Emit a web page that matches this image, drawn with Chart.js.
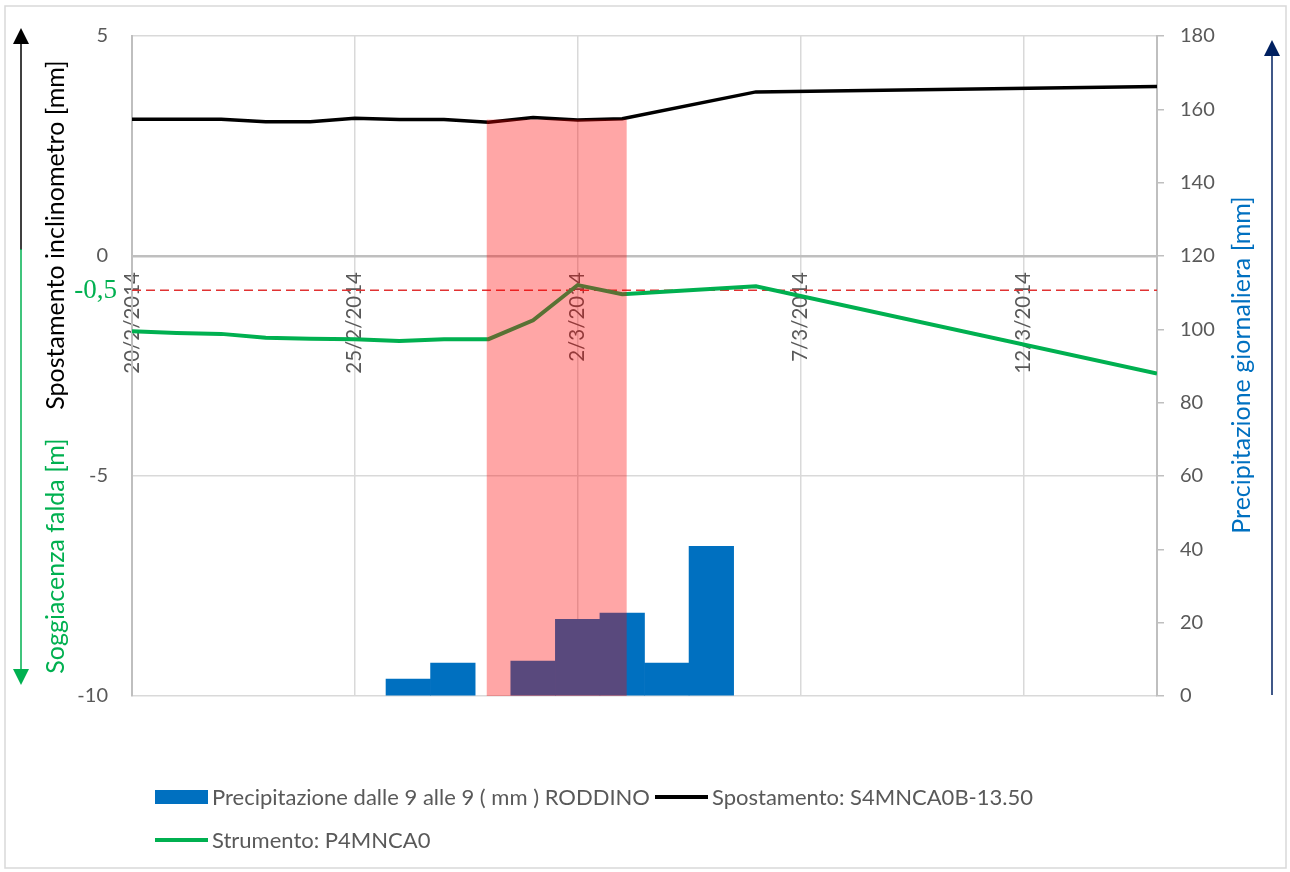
<!DOCTYPE html>
<html>
<head>
<meta charset="utf-8">
<script src="https://cdn.jsdelivr.net/npm/chart.js@4"></script>
<style>
    body { margin: 0; background: #fff; }
    canvas { display: block; }
</style>
</head>
<body>
<canvas id="chart" width="1290" height="872"></canvas>
<script>
// days counted from 20/2/2014
const tickDays = [0, 5, 10, 15, 20];
const tickLabels = ['20/2/2014', '25/2/2014', '2/3/2014', '7/3/2014', '12/3/2014'];

const rainDays = [6.2, 7.2, 9, 10, 11, 12, 13];
const rainValues = [4.6, 9.0, 9.5, 20.9, 22.6, 9.0, 40.8];

const displDays = [0, 1, 2, 3, 4, 5, 6, 7, 8, 9, 10, 11, 14, 23];
const displValues = [3.11, 3.11, 3.11, 3.05, 3.05, 3.13, 3.10, 3.10, 3.04, 3.15, 3.09, 3.12, 3.73, 3.85];

const waterDays = [0, 1, 2, 3, 4, 5, 6, 7, 8, 9, 10, 11, 14, 23];
const waterValues = [-1.71, -1.75, -1.77, -1.86, -1.88, -1.89, -1.93, -1.89, -1.89, -1.46, -0.66, -0.87, -0.69, -2.67];

const thresholdDays = [0, 23];
const thresholdValues = [-0.78, -0.78];
const thresholdLabel = '-0,5';

const highlightDays = [7.96, 11.1];
const highlightTop = 3.10;

const legendItems = ['Precipitazione dalle 9 alle 9 ( mm ) RODDINO', 'Spostamento: S4MNCA0B-13.50', 'Strumento: P4MNCA0'];

const GREY_TEXT = '#595959';
const GREEN = '#00b050';
const BLUE = '#0070c0';
const NAVY = '#002060';
const FONT = 'Lato, "Open Sans", sans-serif';

function toPoints(xs, ys) {
    return xs.map((x, i) => ({ x: x, y: ys[i] }));
}

function arrow(ctx, x, yFrom, yTo, color) {
    const dir = yTo < yFrom ? -1 : 1;
    ctx.save();
    ctx.strokeStyle = color;
    ctx.fillStyle = color;
    ctx.lineWidth = 1.5;
    ctx.beginPath();
    ctx.moveTo(x, yFrom);
    ctx.lineTo(x, yTo - dir * 14);
    ctx.stroke();
    ctx.beginPath();
    ctx.moveTo(x, yTo);
    ctx.lineTo(x - 8, yTo - dir * 16);
    ctx.lineTo(x + 8, yTo - dir * 16);
    ctx.closePath();
    ctx.fill();
    ctx.restore();
}

function rotatedText(ctx, text, x, y, color, font) {
    ctx.save();
    ctx.translate(x, y);
    ctx.rotate(-Math.PI / 2);
    ctx.font = font;
    ctx.fillStyle = color;
    ctx.textAlign = 'center';
    ctx.textBaseline = 'middle';
    ctx.fillText(text, 0, 0);
    ctx.restore();
}

const highlightPlugin = {
    id: 'highlight',
    afterDatasetsDraw(chart) {
        const { ctx, chartArea, scales } = chart;
        const x1 = scales.x.getPixelForValue(highlightDays[0]);
        const x2 = scales.x.getPixelForValue(highlightDays[1]);
        const yTop = scales.y.getPixelForValue(highlightTop);
        ctx.save();
        ctx.fillStyle = 'rgba(255, 0, 0, 0.35)';
        ctx.fillRect(x1, yTop, x2 - x1, chartArea.bottom - yTop);
        ctx.restore();
    }
};

const decorPlugin = {
    id: 'decor',
    afterDraw(chart) {
        const { ctx, scales } = chart;
        ctx.save();

        // outer frame
        ctx.strokeStyle = '#d9d9d9';
        ctx.lineWidth = 1.5;
        ctx.strokeRect(5, 6, 1281, 862);

        // threshold label
        ctx.font = '27px "Liberation Serif", serif';
        ctx.fillStyle = GREEN;
        ctx.textAlign = 'right';
        ctx.textBaseline = 'middle';
        ctx.fillText(thresholdLabel, 117, scales.y.getPixelForValue(thresholdValues[0]) + 1);

        // axis titles
        const titleFont = '25px ' + FONT;
        rotatedText(ctx, 'Spostamento inclinometro [mm]', 56, 235, '#000', titleFont);
        rotatedText(ctx, 'Soggiacenza falda [m]', 56, 556, GREEN, titleFont);
        rotatedText(ctx, 'Precipitazione giornaliera [mm]', 1242, 365, BLUE, titleFont);

        arrow(ctx, 21, 250, 28, '#000');
        arrow(ctx, 21, 249, 685, GREEN);
        arrow(ctx, 1272, 695, 40, NAVY);

        // legend
        ctx.font = '22px ' + FONT;
        ctx.fillStyle = GREY_TEXT;
        ctx.textAlign = 'left';
        ctx.textBaseline = 'middle';

        ctx.save();
        ctx.fillStyle = BLUE;
        ctx.fillRect(155, 790, 53, 14);
        ctx.restore();
        ctx.fillText(legendItems[0], 212, 798);

        ctx.strokeStyle = '#000';
        ctx.lineWidth = 4;
        ctx.beginPath();
        ctx.moveTo(655, 797);
        ctx.lineTo(708, 797);
        ctx.stroke();
        ctx.fillText(legendItems[1], 712, 798);

        ctx.strokeStyle = GREEN;
        ctx.beginPath();
        ctx.moveTo(155, 840);
        ctx.lineTo(208, 840);
        ctx.stroke();
        ctx.fillText(legendItems[2], 212, 841);

        ctx.restore();
    }
};

new Chart(document.getElementById('chart'), {
    type: 'line',
    data: {
        datasets: [
            {
                label: legendItems[2],
                data: toPoints(waterDays, waterValues),
                borderColor: GREEN,
                borderWidth: 4,
                pointRadius: 0,
                yAxisID: 'y',
                order: 1
            },
            {
                label: legendItems[1],
                data: toPoints(displDays, displValues),
                borderColor: '#000',
                borderWidth: 3.5,
                pointRadius: 0,
                yAxisID: 'y',
                order: 2
            },
            {
                label: 'soglia',
                data: toPoints(thresholdDays, thresholdValues),
                borderColor: '#e03232',
                borderWidth: 1.5,
                borderDash: [9, 5],
                pointRadius: 0,
                yAxisID: 'y',
                order: 3
            },
            {
                type: 'bar',
                label: legendItems[0],
                data: toPoints(rainDays, rainValues),
                backgroundColor: BLUE,
                barPercentage: 1,
                categoryPercentage: 1,
                yAxisID: 'y1',
                order: 4
            }
        ]
    },
    options: {
        responsive: false,
        animation: false,
        layout: { padding: { top: 34, bottom: 176, left: 0, right: 0 } },
        plugins: {
            legend: { display: false },
            tooltip: { enabled: false }
        },
        scales: {
            x: {
                type: 'linear',
                position: { y: 0 },
                min: 0,
                max: 23,
                offset: false,
                afterBuildTicks: scale => {
                    scale.ticks = tickDays.map(v => ({ value: v }));
                },
                afterFit: scale => { scale.height = 0; },
                ticks: {
                    minRotation: 90,
                    maxRotation: 90,
                    padding: 16,
                    color: GREY_TEXT,
                    font: { family: FONT, size: 20.5 },
                    callback: value => tickLabels[tickDays.indexOf(value)]
                },
                grid: { color: '#d9d9d9', lineWidth: 1.5, drawTicks: false, offset: false },
                border: { color: '#bfbfbf', width: 2.5 }
            },
            y: {
                position: 'left',
                min: -10,
                max: 5,
                afterBuildTicks: scale => {
                    scale.ticks = [5, 0, -5, -10].map(v => ({ value: v }));
                },
                afterFit: scale => { scale.width = 132; },
                ticks: {
                    padding: 24,
                    color: GREY_TEXT,
                    font: { family: FONT, size: 20 }
                },
                grid: { color: '#d9d9d9', lineWidth: 1.5, drawTicks: false },
                border: { color: '#bfbfbf', width: 2 }
            },
            y1: {
                position: 'right',
                min: 0,
                max: 180,
                ticks: {
                    stepSize: 20,
                    padding: 16,
                    color: GREY_TEXT,
                    font: { family: FONT, size: 20 }
                },
                afterFit: scale => { scale.width = 133; },
                grid: { drawOnChartArea: false, color: '#bfbfbf', tickLength: 7, lineWidth: 1.5 },
                border: { color: '#bfbfbf', width: 2 }
            }
        }
    },
    plugins: [highlightPlugin, decorPlugin]
});
</script>
</body>
</html>
